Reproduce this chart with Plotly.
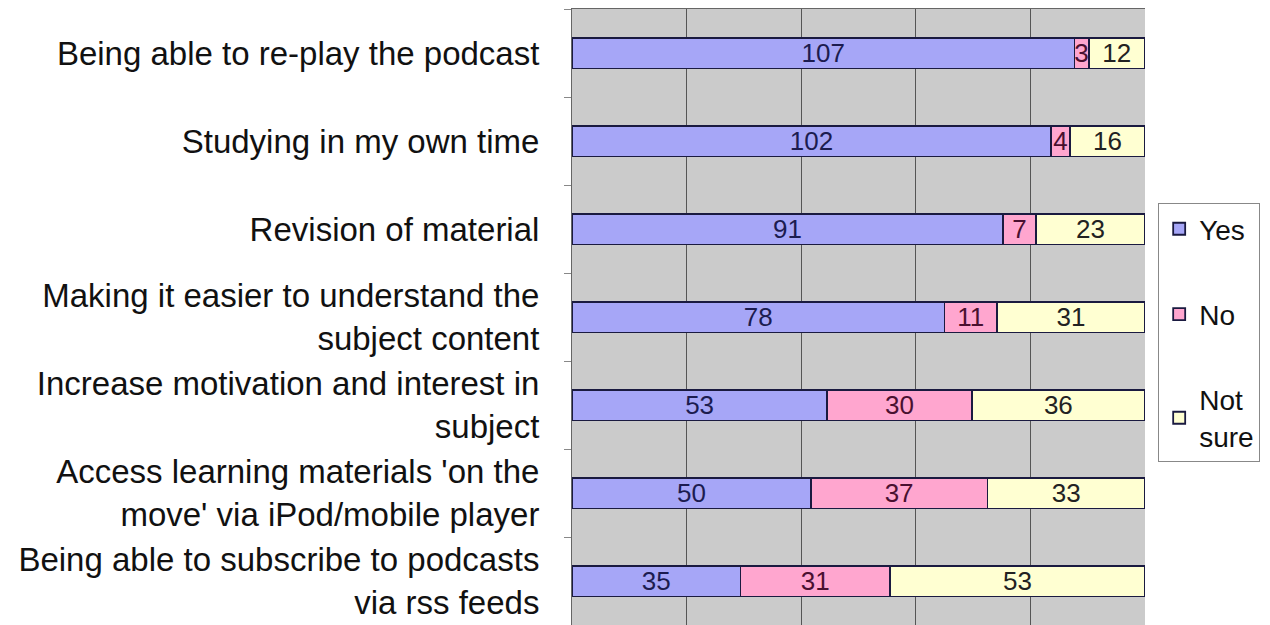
import plotly.graph_objects as go

categories = [
    "Being able to re-play the podcast",
    "Studying in my own time",
    "Revision of material",
    "Making it easier to understand the<br>subject content",
    "Increase motivation and interest in<br>subject",
    "Access learning materials 'on the<br>move' via iPod/mobile player",
    "Being able to subscribe to podcasts<br>via rss feeds",
]
yes_vals = [107, 102, 91, 78, 53, 50, 35]
no_vals = [3, 4, 7, 11, 30, 37, 31]
notsure_vals = [12, 16, 23, 31, 36, 33, 53]

series = [
    ("Yes", yes_vals, "#A6A6F7", "#1c1c50"),
    ("No", no_vals, "#FFA6CF", "#4a1030"),
    ("Not<br>sure", notsure_vals, "#FFFFD2", "#222222"),
]

fig = go.Figure()
for i, (name, vals, color, tcolor) in enumerate(series):
    fig.add_trace(go.Bar(
        y=categories, x=vals, name=name, orientation="h",
        marker=dict(color=color, line=dict(color="#1a1a40", width=1.8)),
        text=[str(v) for v in vals], textposition="inside",
        insidetextanchor="middle", textangle=0, constraintext="none",
        textfont=dict(family="Liberation Sans, Arial", size=26, color=tcolor),
        legendgroup=str(i),
    ))

fig.update_layout(
    barmode="stack", barnorm="percent", bargap=0.65,
    width=1270, height=625,
    margin=dict(l=564, r=133, t=1, b=8, autoexpand=False),
    paper_bgcolor="white", plot_bgcolor="#CBCBCB",
    font=dict(family="Liberation Sans, Arial", color="#111111"),
    showlegend=True,
    legend=dict(
        x=1.023, y=0.685, xanchor="left", yanchor="top",
        bordercolor="#888888", borderwidth=1, bgcolor="white",
        font=dict(size=28, color="#111111"),
        tracegroupgap=46, itemwidth=30,
    ),
)
fig.update_xaxes(
    range=[0, 100], dtick=20, showgrid=True, gridcolor="#555555", gridwidth=1,
    showticklabels=False, zeroline=False, showline=True, linecolor="#666666",
    mirror=True, ticks="",
)
fig.update_yaxes(
    autorange="reversed", tickson="boundaries", ticks="outside", ticklen=7,
    tickcolor="#888888", showline=True, linecolor="#666666",
    tickfont=dict(size=33, color="#111111"), ticklabelstandoff=25,
    automargin=False,
)

fig.write_html("out.html")
